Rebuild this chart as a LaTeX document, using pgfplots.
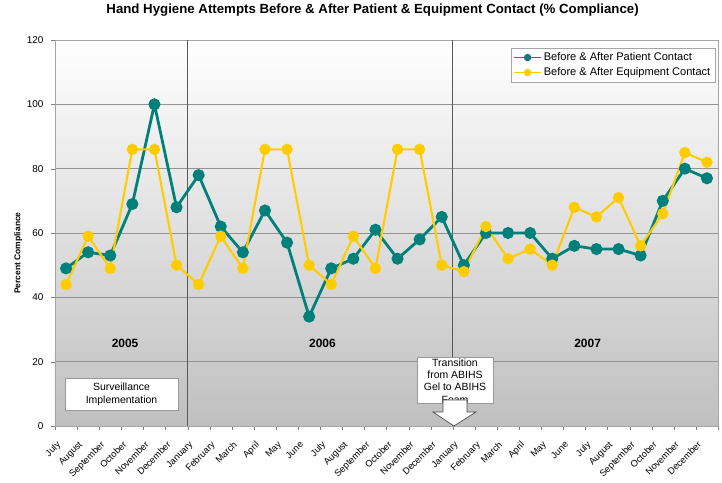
\documentclass[border=0pt]{standalone}
\usepackage{pgfplots}
\pgfplotsset{compat=1.18}
\usepackage{fontspec}
\setmainfont{Liberation Sans}
\definecolor{tealc}{RGB}{0,128,122}
\definecolor{goldc}{RGB}{255,204,0}
\begin{document}
\begin{tikzpicture}
\begin{axis}[
  name=ax,
  scale only axis, width=663bp, height=386bp,
  xmin=-0.5, xmax=29.5, ymin=0, ymax=120,
  ytick={0,20,...,120},
  xtick={0,...,29},
  xticklabels={July,August,September,October,November,December,January,February,March,April,May,June,July,August,September,October,November,December,January,February,March,April,May,June,July,August,September,October,November,December},
  xticklabel style={font=\fontsize{9.3}{10}\selectfont, xshift=-10bp, yshift=-9bp, rotate=45, anchor=north east, inner sep=1pt},
  yticklabel style={font=\fontsize{10}{11}\selectfont, xshift=-4bp},
  /pgf/number format/assume math mode=true,
  major x tick style={draw=none},
  minor xtick={-0.5,0.5,...,29.5},
  minor tick length=4bp,
  major tick length=4bp,
  tick align=outside,
  tick pos=left,
  ymajorgrids, grid style={gray!85, line width=0.7pt},
  axis line style={gray!70, line width=0.8pt},
  axis background/.style={top color=white, bottom color=black!25},
  title={\bfseries Hand Hygiene Attempts Before \& After Patient \& Equipment Contact (\% Compliance)},
  title style={font=\fontsize{13.3}{15}\selectfont, at={(axis description cs:0.479,1)}, anchor=base, yshift=21bp},
  ylabel={\bfseries Percent Compliance},
  ylabel style={font=\fontsize{8.5}{9}\selectfont, at={(axis description cs:-0.0555,0.448)}, anchor=center},
  legend style={at={(0.9955,0.979)}, anchor=north east, draw=gray!70, fill=white, font=\fontsize{11.1}{13}\selectfont, cells={anchor=west}, row sep=1.5pt, inner sep=2.5pt},
  legend image code/.code={\draw[mark repeat=2, mark phase=2, mark size=2.8pt, line width=1.7pt, #1] plot coordinates {(0cm,0cm) (0.47cm,0cm) (0.94cm,0cm)};},
  legend cell align=left,
  clip=false,
]
\draw[black!65, line width=0.9pt] (axis cs:5.5,0) -- (axis cs:5.5,120);
\draw[black!65, line width=0.9pt] (axis cs:17.5,0) -- (axis cs:17.5,120);
\addplot[tealc, line width=2.8pt, mark=*, mark size=4.6pt, mark options={fill=tealc, draw=none}] coordinates {
(0,49)(1,54)(2,53)(3,69)(4,100)(5,68)
(6,78)(7,62)(8,54)(9,67)(10,57)(11,34)(12,49)(13,52)(14,61)(15,52)(16,58)(17,65)
(18,50)(19,60)(20,60)(21,60)(22,52)(23,56)(24,55)(25,55)(26,53)(27,70)(28,80)(29,77)};
\addlegendentry{Before \& After Patient Contact}
\addplot[goldc, line width=2.1pt, mark=*, mark size=4.6pt, mark options={fill=goldc, draw=none}] coordinates {
(0,44)(1,59)(2,49)(3,86)(4,86)(5,50)
(6,44)(7,59)(8,49)(9,86)(10,86)(11,50)(12,44)(13,59)(14,49)(15,86)(16,86)(17,50)
(18,48)(19,62)(20,52)(21,55)(22,50)(23,68)(24,65)(25,71)(26,56)(27,66)(28,85)(29,82)};
\addlegendentry{Before \& After Equipment Contact}
\node[font=\bfseries\fontsize{12}{13}\selectfont] at (axis cs:2.67,25.6) {2005};
\node[font=\bfseries\fontsize{12}{13}\selectfont] at (axis cs:11.6,25.6) {2006};
\node[font=\bfseries\fontsize{12}{13}\selectfont] at (axis cs:23.6,25.6) {2007};
\draw[gray!80, fill=white, line width=0.7pt] (axis cs:-0.05,5.0) rectangle (axis cs:5.07,14.9);
\node[align=center, font=\fontsize{10.5}{12.8}\selectfont] at (axis cs:2.51,9.95) {Surveillance\\Implementation};
\draw[gray!80, fill=white, line width=0.7pt] (axis cs:15.88,7.1) rectangle (axis cs:19.32,21.4);
\node[align=center, anchor=north, font=\fontsize{10.5}{12.4}\selectfont, inner sep=0pt] at (axis cs:17.6,21.0) {Transition\\from ABIHS\\Gel to ABIHS\\Foam};
\draw[gray!60!black, fill=white, line width=0.7pt] (axis cs:17.06,8.1) -- (axis cs:18.14,8.1) -- (axis cs:18.14,4.35) -- (axis cs:18.55,4.35) -- (axis cs:17.55,0) -- (axis cs:16.6,4.35) -- (axis cs:17.06,4.35) -- cycle;
\end{axis}
\pgfresetboundingbox
\path ([xshift=-55bp,yshift=-57bp]ax.south west) rectangle ([xshift=4bp,yshift=40bp]ax.north east);
\end{tikzpicture}
\end{document}
